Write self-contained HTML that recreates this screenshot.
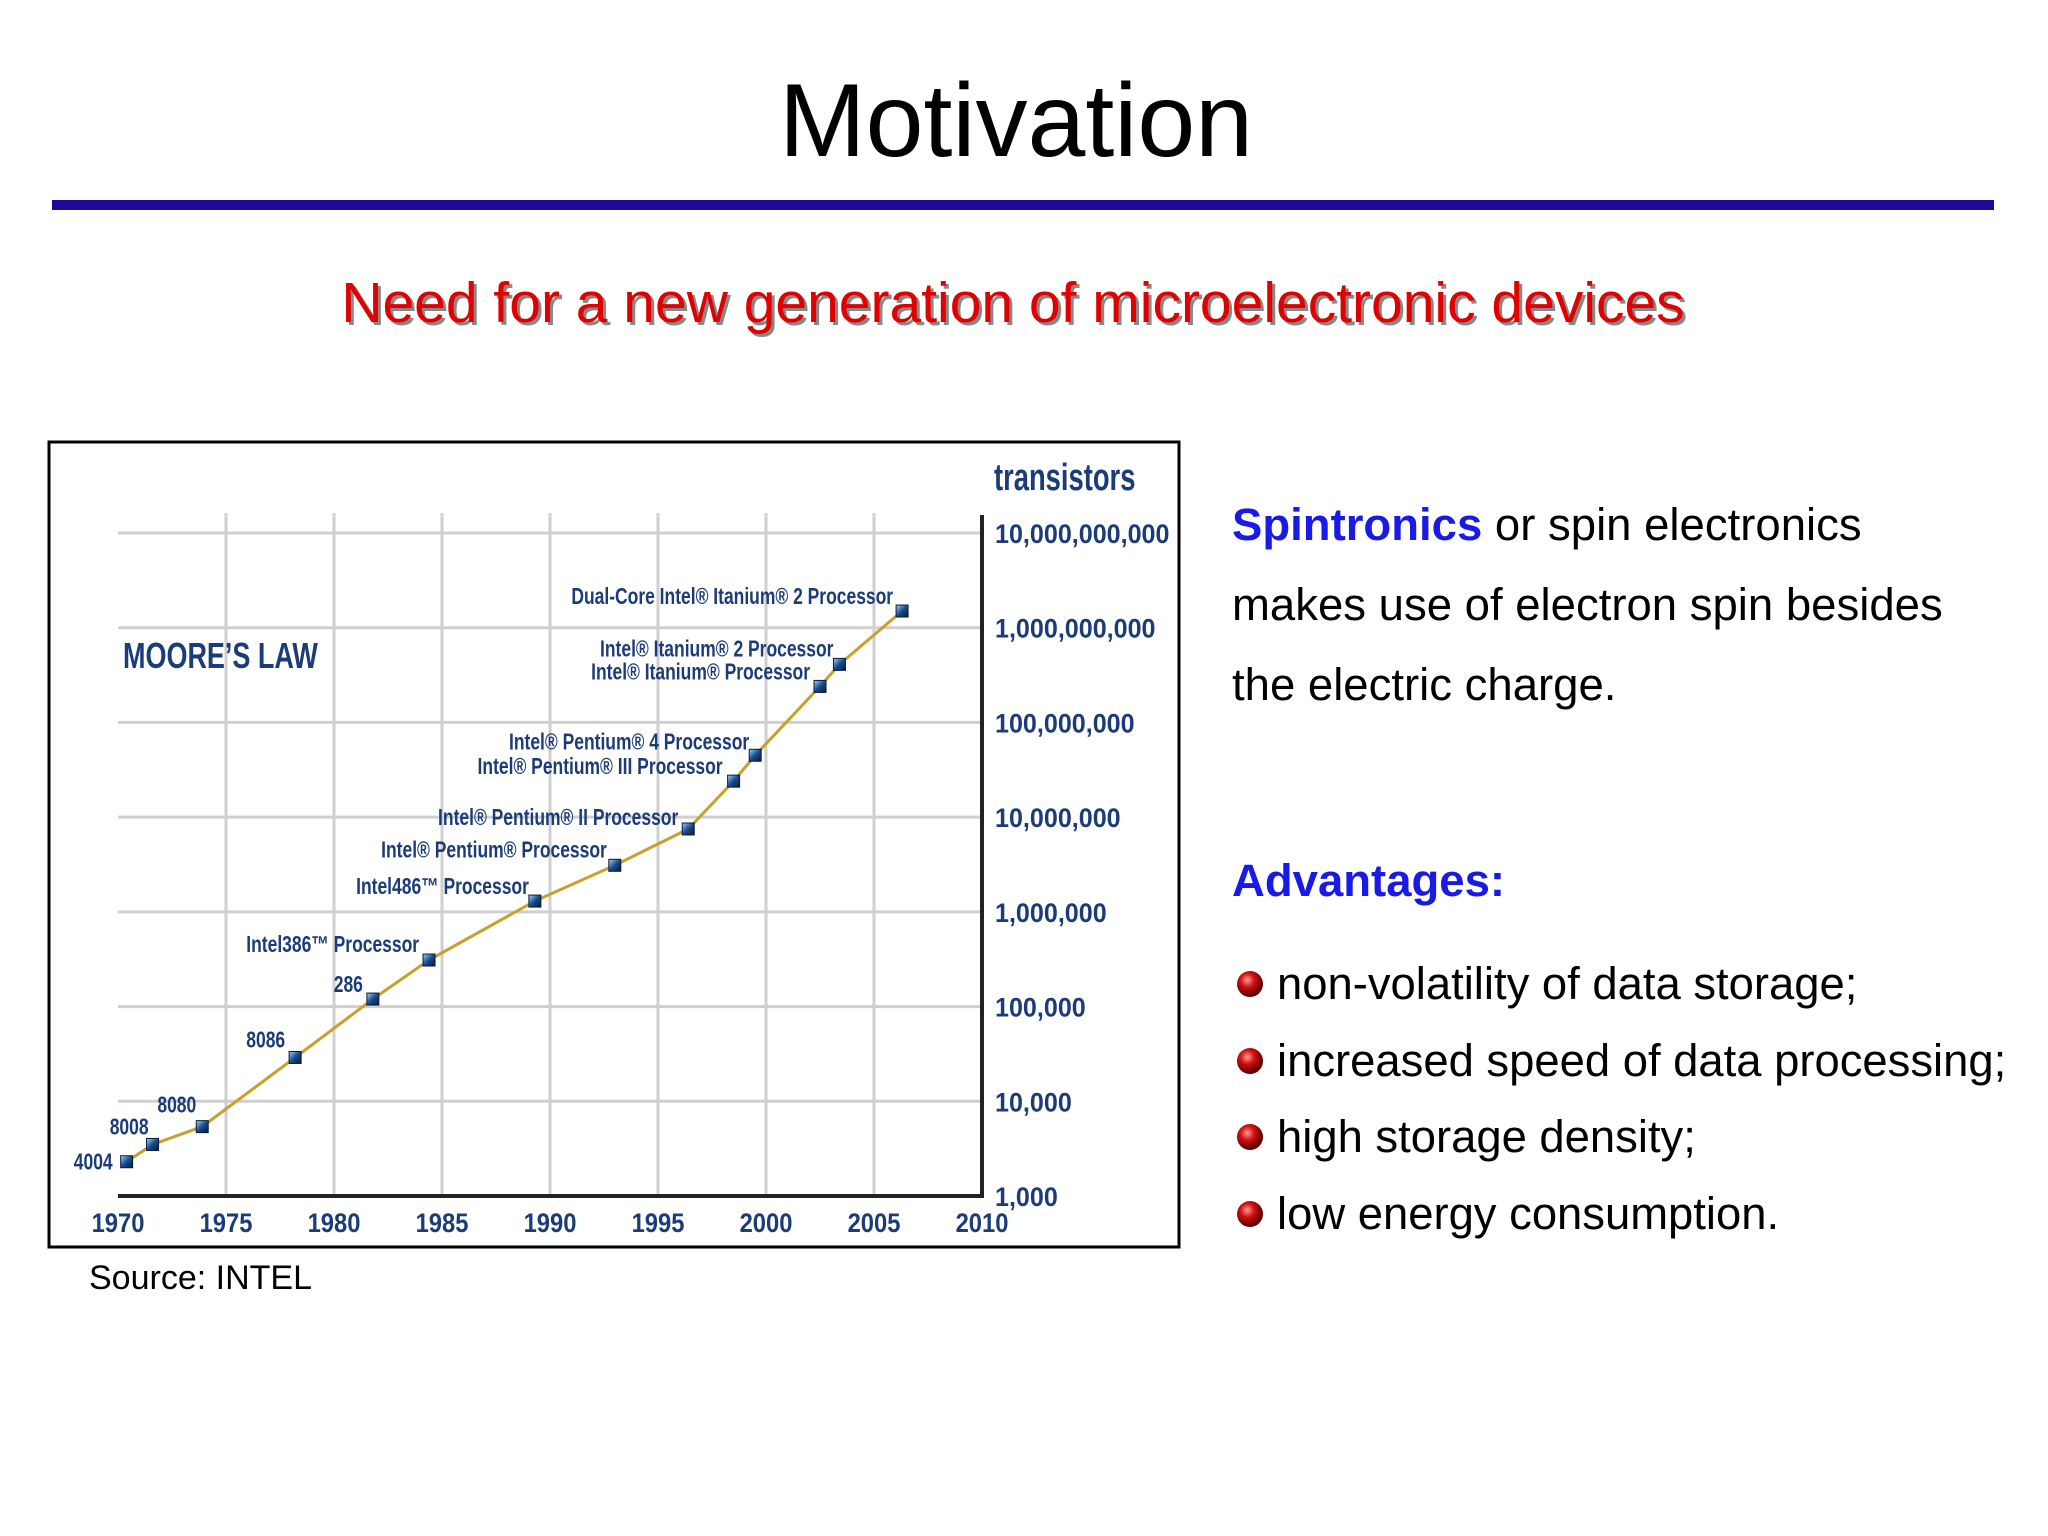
<!DOCTYPE html>
<html><head><meta charset="utf-8"><style>
html,body{margin:0;padding:0;background:#fff;}
svg{display:block;}
.t{font-family:"Liberation Sans",Arial,sans-serif;}
.n{font-family:"Liberation Sans Narrow","Liberation Sans",sans-serif;font-weight:bold;fill:#1c3c78;}
</style></head><body>
<svg id="s" width="2048" height="1536" viewBox="0 0 2048 1536" xmlns="http://www.w3.org/2000/svg">
<defs>
<radialGradient id="rb" cx="0.4" cy="0.35" r="0.6"><stop offset="0" stop-color="#ff9a9a"/><stop offset="0.45" stop-color="#d01010"/><stop offset="1" stop-color="#600000"/></radialGradient>
<linearGradient id="mk" x1="0" y1="0" x2="1" y2="1"><stop offset="0" stop-color="#9fd8ff"/><stop offset="0.5" stop-color="#1a4a8a"/><stop offset="1" stop-color="#0a1a3a"/></linearGradient>
</defs>
<rect width="2048" height="1536" fill="#fff"/>
<text class="t" x="1016" y="156" font-size="104" text-anchor="middle" fill="#000">Motivation</text>
<rect x="52" y="200" width="1942" height="10" fill="#1e0a96"/>
<text class="t" x="1016" y="325" font-size="57" text-anchor="middle" fill="#888">Need for a new generation of microelectronic devices</text>
<text class="t" x="1013" y="322" font-size="57" text-anchor="middle" fill="#e00000">Need for a new generation of microelectronic devices</text>

<rect x="49" y="442" width="1130" height="805" fill="#fff" stroke="#000" stroke-width="3"/>
<g id="chart"></g>
<text class="t" x="89" y="1289" font-size="34" fill="#000">Source: INTEL</text>

<text class="t" x="1232" y="540" font-size="45.5" fill="#000"><tspan font-weight="bold" fill="#1a1ae6">Spintronics</tspan> or spin electronics</text>
<text class="t" x="1232" y="620" font-size="45.5" fill="#000">makes use of electron spin besides</text>
<text class="t" x="1232" y="700" font-size="45.5" fill="#000">the electric charge.</text>
<text class="t" x="1232" y="896" font-size="45.5" font-weight="bold" fill="#1a1ae6">Advantages:</text>
<g>
<circle cx="1250" cy="984" r="13" fill="url(#rb)"/>
<text class="t" x="1277" y="999" font-size="45.4" fill="#000">non-volatility of data storage;</text>
<circle cx="1250" cy="1061" r="13" fill="url(#rb)"/>
<text class="t" x="1277" y="1076" font-size="45.4" fill="#000">increased speed of data processing;</text>
<circle cx="1250" cy="1137" r="13" fill="url(#rb)"/>
<text class="t" x="1277" y="1152" font-size="45.4" fill="#000">high storage density;</text>
<circle cx="1250" cy="1214" r="13" fill="url(#rb)"/>
<text class="t" x="1277" y="1229" font-size="45.4" fill="#000">low energy consumption.</text>
</g>
</svg>
<script>
const names = ["4004","8008","8080","8086","286","Intel386\u2122 Processor","Intel486\u2122 Processor","Intel\u00ae Pentium\u00ae Processor","Intel\u00ae Pentium\u00ae II Processor","Intel\u00ae Pentium\u00ae III Processor","Intel\u00ae Pentium\u00ae 4 Processor","Intel\u00ae Itanium\u00ae Processor","Intel\u00ae Itanium\u00ae 2 Processor","Dual-Core Intel\u00ae Itanium\u00ae 2 Processor"];
const years = [1970.4,1971.6,1973.9,1978.2,1981.8,1984.4,1989.3,1993.0,1996.4,1998.5,1999.5,2002.5,2003.4,2006.3];
const transistors = [2300,3500,5400,29000,120000,310000,1300000,3100000,7500000,24000000,45000000,240000000,410000000,1500000000];
const xTicks = [1970,1975,1980,1985,1990,1995,2000,2005,2010];
const yTicks = [1e3,1e4,1e5,1e6,1e7,1e8,1e9,1e10];
const yTickLabels = ["1,000","10,000","100,000","1,000,000","10,000,000","100,000,000","1,000,000,000","10,000,000,000"];
const labelDx = [-14,-4,-6,-10,-10,-10,-6,-8,-10,-11,-6,-10,-6,-9];
const labelDy = [0,-18,-22,-18,-15,-16,-15,-16,-12,-15,-14,-15,-16,-15];

const X0=118,X1=982,Y0=1196,Y1=533;
const x = y => X0 + (y-1970)/(2010-1970)*(X1-X0);
const yv = v => Y0 - (Math.log10(v)-3)/(10-3)*(Y0-Y1);
const NS="http://www.w3.org/2000/svg";
const g=document.getElementById('chart');
function mk(tag,attrs,parent){const e=document.createElementNS(NS,tag);for(const k in attrs)e.setAttribute(k,attrs[k]);(parent||g).appendChild(e);return e;}
function ntext(px,py,size,sx,anchor){return mk('text',{x:0,y:0,'font-size':size,'text-anchor':anchor||'start',class:'n',transform:`translate(${px},${py}) scale(${sx},1)`});}

xTicks.slice(1,-1).forEach(t=>{
  const l=mk('line',{x1:x(t),x2:x(t),y1:513,y2:Y0,stroke:'#cfcfcf','stroke-width':3});
  
  
});
yTicks.slice(1).forEach(t=>{
  const l=mk('line',{x1:X0,x2:X1,y1:yv(t),y2:yv(t),stroke:'#cfcfcf','stroke-width':3});
  
  
});
const ax=mk('path',{d:`M${X0} ${Y0}H${X1}V515`,fill:'none',stroke:'#222','stroke-width':4});


xTicks.forEach(t=>{
  const e=ntext(x(t),1232,27,0.88,'middle');
  e.textContent=t;
  
  
});
yTicks.forEach((t,i)=>{
  const e=ntext(995,yv(t)+10,27,0.93);
  e.textContent=yTickLabels[i];
  
  
});
const tt=ntext(994,490,38,0.72);
tt.setAttribute('fill','#2a4a7a');
tt.textContent='transistors';


const ml=ntext(123,668,36,0.75);
ml.textContent="MOORE\u2019S LAW";



const pts=years.map((yr,i)=>[x(yr),yv(transistors[i])]);
const line=mk('polyline',{points:pts.map(p=>p.join(',')).join(' '),fill:'none',stroke:'#c8a02a','stroke-width':3});


pts.forEach((p,i)=>{
  const r=mk('rect',{x:p[0]-6,y:p[1]-6,width:12,height:12,fill:'url(#mk)',stroke:'#0a1a3a','stroke-width':1});
  
  
  const t=ntext(p[0]+labelDx[i],p[1]+labelDy[i]+8,23,0.76,'end');
  t.textContent=names[i];
  
  
});
</script>
</body></html>
